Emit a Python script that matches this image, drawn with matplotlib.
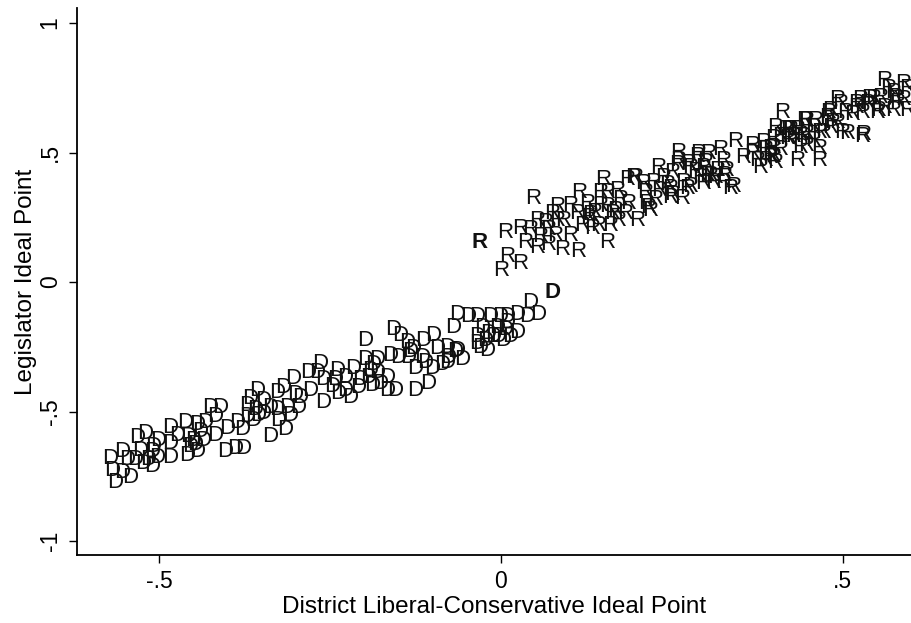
import numpy as np
import matplotlib
matplotlib.use("Agg")
import matplotlib.pyplot as plt

plt.rcParams['font.family'] = ['Liberation Sans', 'DejaVu Sans']

# democrats (district ideal point, legislator ideal point)
dem_x = [-0.572, -0.564, -0.569, -0.554, -0.554, -0.542, -0.547, -0.535, -0.532, -0.520,
         -0.523, -0.510, -0.510, -0.509, -0.501, -0.503, -0.484, -0.484, -0.484, -0.474,
         -0.462, -0.458, -0.455, -0.459, -0.444, -0.444, -0.450, -0.433, -0.425, -0.411,
         -0.418, -0.418, -0.404, -0.389, -0.377, -0.401, -0.386, -0.379, -0.371, -0.367,
         -0.357, -0.360, -0.348, -0.338, -0.338, -0.326, -0.327, -0.319, -0.316, -0.327,
         -0.363, -0.348, -0.304, -0.313, -0.297, -0.294, -0.282, -0.279, -0.269, -0.265,
         -0.260, -0.260, -0.247, -0.240, -0.238, -0.228, -0.221, -0.216, -0.209, -0.206,
         -0.199, -0.199, -0.194, -0.187, -0.181, -0.181, -0.167, -0.167, -0.162, -0.155,
         -0.158, -0.148, -0.151, -0.137, -0.136, -0.126, -0.126, -0.129, -0.114, -0.115,
         -0.107, -0.099, -0.101, -0.094, -0.086, -0.079, -0.077, -0.070, -0.064, -0.057,
         -0.064, -0.048, -0.035, -0.035, -0.035, -0.016, -0.001, 0.009, 0.023, 0.039,
         0.054, 0.042, -0.031, -0.020, -0.006, -0.004, 0.003, 0.009, 0.023, -0.012,
         -0.067, -0.079, -0.440, -0.447, -0.436, -0.308, -0.301, -0.243, -0.228, -0.192,
         -0.177, -0.189, -0.133, -0.111, -0.028, -0.019, 0.006, 0.013, -0.023, -0.516,
         -0.528, -0.371, -0.355]
dem_y = [-0.680, -0.776, -0.726, -0.656, -0.737, -0.753, -0.687, -0.687, -0.602, -0.583,
         -0.699, -0.714, -0.656, -0.637, -0.610, -0.676, -0.676, -0.622, -0.560, -0.591,
         -0.544, -0.598, -0.637, -0.668, -0.656, -0.552, -0.610, -0.544, -0.483, -0.483,
         -0.521, -0.591, -0.656, -0.641, -0.641, -0.564, -0.544, -0.571, -0.521, -0.448,
         -0.417, -0.494, -0.456, -0.483, -0.598, -0.533, -0.425, -0.409, -0.571, -0.494,
         -0.533, -0.506, -0.371, -0.483, -0.483, -0.444, -0.351, -0.417, -0.351, -0.313,
         -0.378, -0.467, -0.405, -0.340, -0.429, -0.367, -0.444, -0.332, -0.409, -0.378,
         -0.224, -0.301, -0.367, -0.320, -0.351, -0.301, -0.417, -0.367, -0.282, -0.417,
         -0.185, -0.205, -0.290, -0.232, -0.290, -0.417, -0.332, -0.255, -0.224, -0.290,
         -0.390, -0.205, -0.332, -0.255, -0.320, -0.251, -0.293, -0.174, -0.263, -0.301,
         -0.127, -0.135, -0.135, -0.212, -0.236, -0.135, -0.135, -0.135, -0.127, -0.135,
         -0.127, -0.081, -0.251, -0.263, -0.174, -0.212, -0.224, -0.158, -0.193, -0.212,
         -0.270, -0.309, -0.579, -0.629, -0.610, -0.514, -0.436, -0.378, -0.417, -0.340,
         -0.390, -0.398, -0.270, -0.309, -0.174, -0.197, -0.185, -0.212, -0.224, -0.687,
         -0.649, -0.475, -0.514]

# republicans
rep_x = [0.001, 0.009, 0.028, 0.006, 0.028, 0.047, 0.035, 0.042, 0.053, 0.053,
         0.057, 0.064, 0.069, 0.075, 0.082, 0.082, 0.089, 0.091, 0.101, 0.101,
         0.111, 0.113, 0.115, 0.118, 0.126, 0.127, 0.133, 0.137, 0.145, 0.142,
         0.155, 0.149, 0.155, 0.156, 0.162, 0.171, 0.170, 0.174, 0.184, 0.186,
         0.193, 0.199, 0.208, 0.211, 0.213, 0.218, 0.222, 0.230, 0.237, 0.243,
         0.247, 0.251, 0.257, 0.196, 0.215, 0.259, 0.259, 0.276, 0.287, 0.303,
         0.320, 0.325, 0.330, 0.339, 0.342, 0.301, 0.291, 0.272, 0.251, 0.265,
         0.354, 0.368, 0.374, 0.379, 0.383, 0.398, 0.398, 0.433, 0.466, 0.466,
         0.411, 0.401, 0.423, 0.447, 0.447, 0.466, 0.477, 0.481, 0.496, 0.491,
         0.506, 0.528, 0.520, 0.535, 0.544, 0.554, 0.561, 0.566, 0.573, 0.588,
         0.594, 0.551, 0.573, 0.594, 0.588, 0.427, 0.456, 0.437, 0.288, 0.386,
         0.401, 0.408, 0.420, 0.433, 0.442, 0.273, 0.284, 0.295, 0.306, 0.316,
         0.327, 0.335, 0.276, 0.266, 0.247, 0.295, 0.310, 0.325, 0.368, 0.393,
         0.398, 0.415, 0.418, 0.437, 0.444, 0.447, 0.456, 0.471, 0.478, 0.484,
         0.491, 0.499, 0.503, 0.513, 0.520, 0.529, 0.528, 0.539, 0.550, 0.576,
         0.393, 0.393, 0.145, 0.167, 0.130, 0.181, 0.159, 0.069, 0.079, 0.232,
         0.225, 0.313, 0.298, 0.386, 0.408, 0.423, 0.539, 0.561, 0.579, 0.525,
         0.481, 0.459]
rep_y = [0.046, 0.097, 0.073, 0.193, 0.205, 0.324, 0.154, 0.201, 0.239, 0.135,
         0.174, 0.228, 0.143, 0.266, 0.290, 0.239, 0.124, 0.239, 0.181, 0.297,
         0.266, 0.116, 0.344, 0.220, 0.305, 0.251, 0.208, 0.270, 0.344, 0.220,
         0.154, 0.394, 0.344, 0.290, 0.266, 0.239, 0.355, 0.317, 0.394, 0.305,
         0.405, 0.239, 0.382, 0.344, 0.305, 0.278, 0.386, 0.444, 0.405, 0.375,
         0.328, 0.421, 0.452, 0.402, 0.286, 0.502, 0.471, 0.444, 0.483, 0.498,
         0.510, 0.471, 0.432, 0.367, 0.541, 0.413, 0.402, 0.363, 0.336, 0.324,
         0.479, 0.529, 0.471, 0.444, 0.537, 0.483, 0.521, 0.471, 0.471, 0.517,
         0.656, 0.595, 0.587, 0.625, 0.575, 0.579, 0.637, 0.664, 0.691, 0.614,
         0.575, 0.560, 0.672, 0.691, 0.710, 0.714, 0.780, 0.749, 0.730, 0.768,
         0.749, 0.664, 0.664, 0.664, 0.703, 0.560, 0.548, 0.521, 0.498, 0.471,
         0.463, 0.560, 0.587, 0.587, 0.560, 0.459, 0.425, 0.444, 0.413, 0.432,
         0.413, 0.363, 0.367, 0.386, 0.363, 0.382, 0.386, 0.386, 0.498, 0.490,
         0.556, 0.587, 0.556, 0.568, 0.625, 0.529, 0.595, 0.579, 0.653, 0.614,
         0.703, 0.579, 0.656, 0.645, 0.691, 0.568, 0.656, 0.710, 0.656, 0.714,
         0.517, 0.479, 0.297, 0.278, 0.259, 0.266, 0.220, 0.201, 0.181, 0.355,
         0.317, 0.402, 0.463, 0.510, 0.510, 0.548, 0.683, 0.672, 0.695, 0.703,
         0.595, 0.625]

# highlighted legislators (bold labels)
hi_x = [-0.031, 0.076]
hi_y = [0.151, -0.042]
hi_lab = ['R', 'D']

x_ticks = [-0.5, 0, 0.5]
x_ticklabels = ['-.5', '0', '.5']
y_ticks = [-1, -0.5, 0, 0.5, 1]
y_ticklabels = ['-1', '-.5', '0', '.5', '1']


def main():
    fig = plt.figure(figsize=(9.12, 6.23), dpi=100)
    ax = fig.add_axes([77/912, 1 - 555/623, 1 - 77/912, (555 - 8)/623])

    # party letters used as markers
    for x, y in zip(dem_x, dem_y):
        ax.text(x, y, 'D', ha='center', va='center', fontsize=16, color='#111111')
    for x, y in zip(rep_x, rep_y):
        ax.text(x, y, 'R', ha='center', va='center', fontsize=16, color='#111111')
    for x, y, s in zip(hi_x, hi_y, hi_lab):
        ax.text(x, y, s, ha='center', va='center', fontsize=16, fontweight='bold', color='#111111')

    ax.set_xlim(-0.620, 0.601)
    ax.set_ylim(-1.054, 1.058)
    ax.set_xticks(x_ticks)
    ax.set_xticklabels(x_ticklabels)
    ax.set_yticks(y_ticks)
    ax.set_yticklabels(y_ticklabels, rotation=90, va='center')
    ax.tick_params(direction='out', length=6, width=1, labelsize=16.5, pad=5)

    ax.spines['top'].set_visible(False)
    ax.spines['right'].set_visible(False)
    ax.spines['left'].set_linewidth(1.3)
    ax.spines['bottom'].set_linewidth(1.3)

    ax.set_xlabel('District Liberal-Conservative Ideal Point', fontsize=17.5, labelpad=2)
    ax.set_ylabel('Legislator Ideal Point', fontsize=17.5, labelpad=1)

    fig.savefig('out.png', dpi=100)


if __name__ == "__main__":
    main()
